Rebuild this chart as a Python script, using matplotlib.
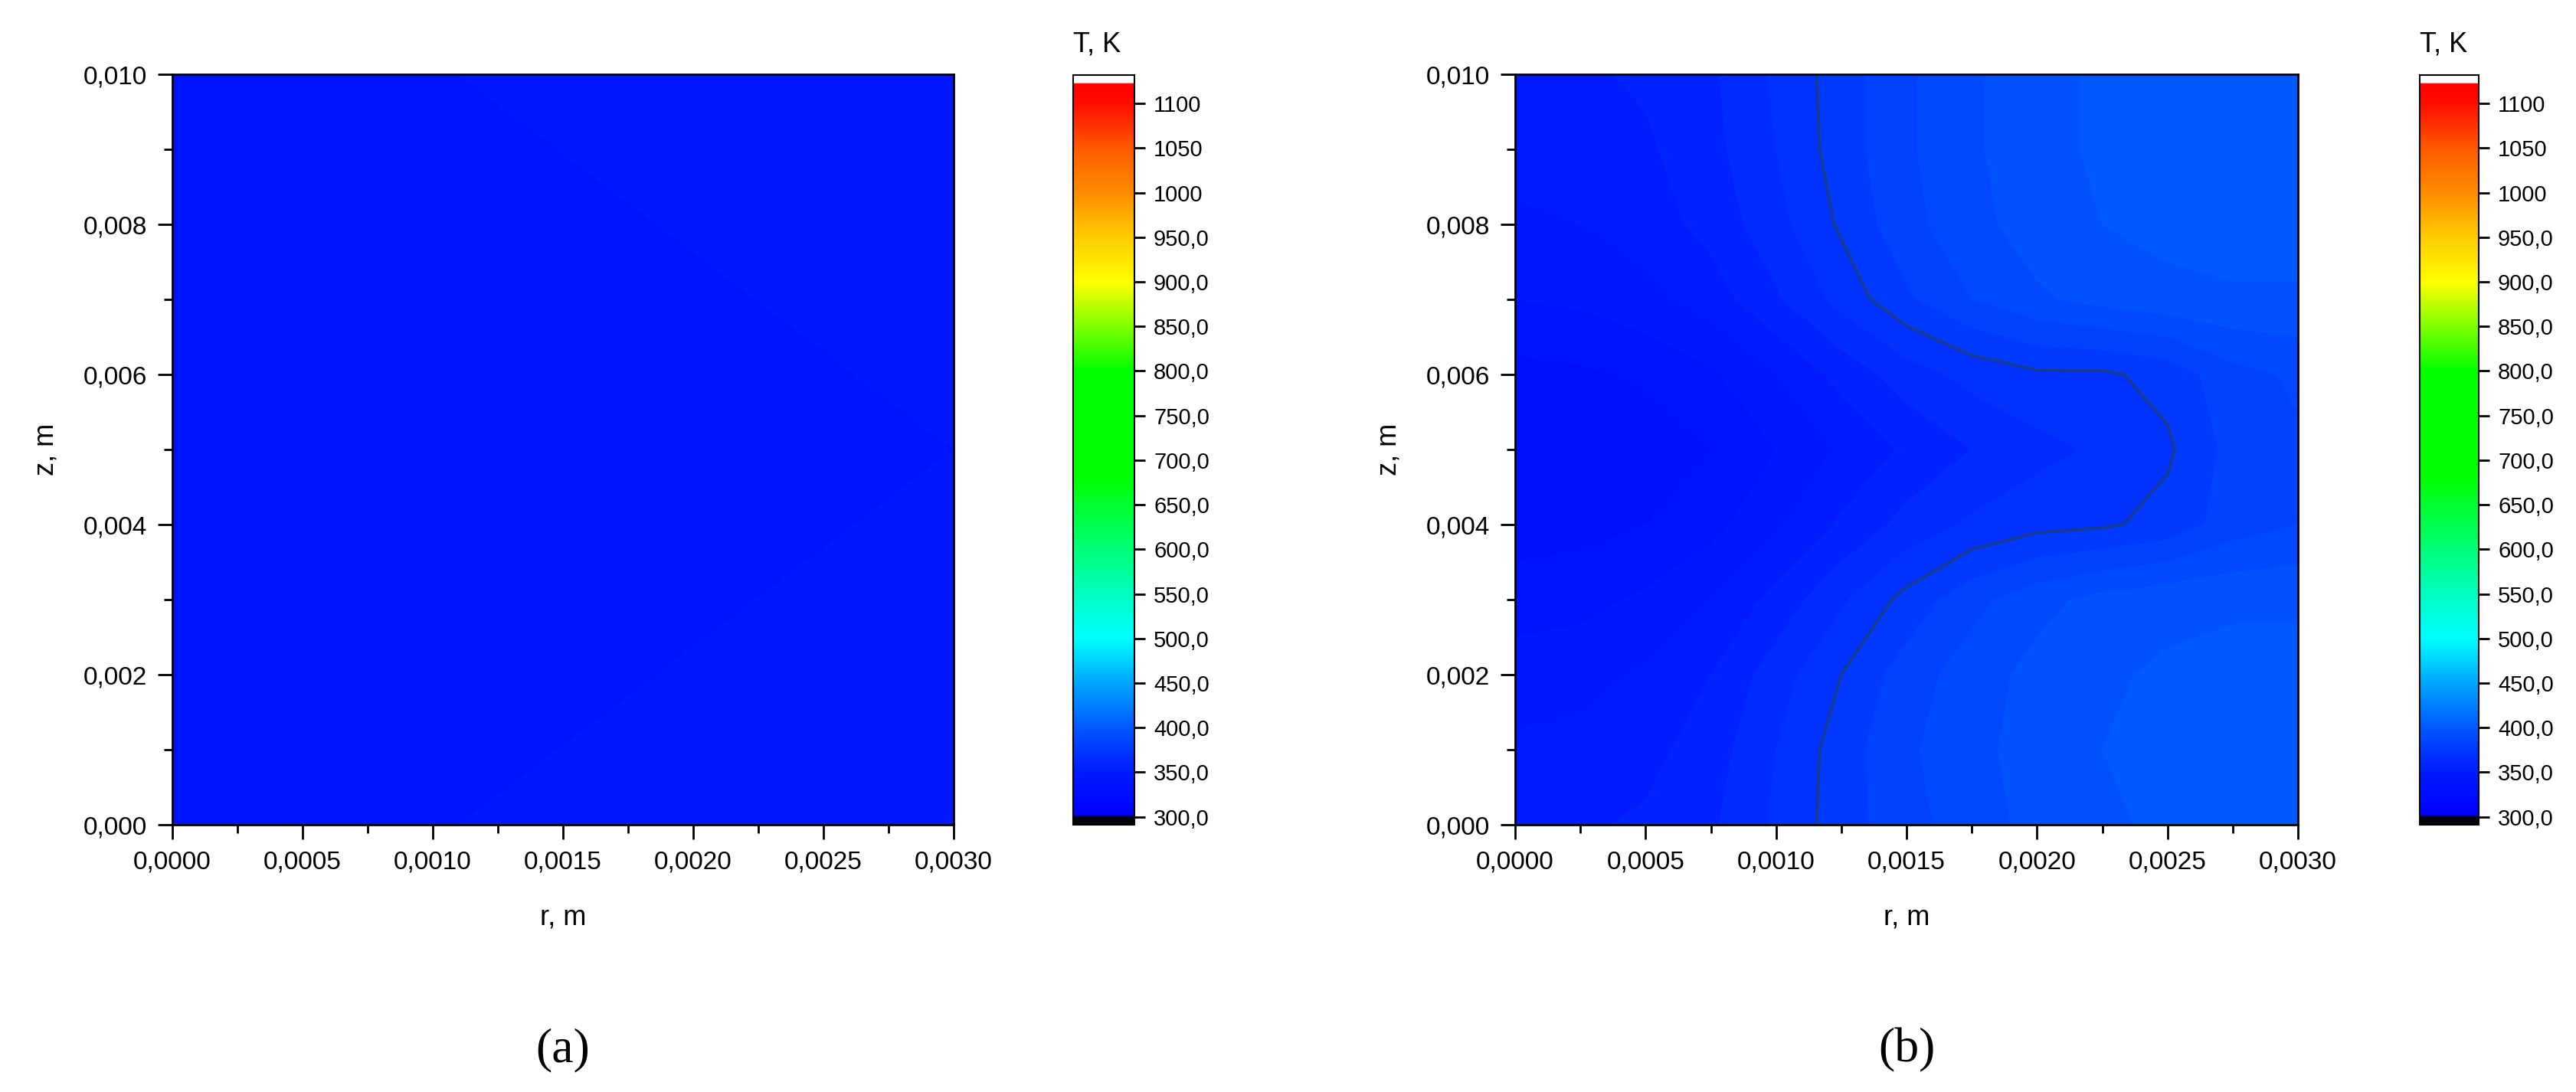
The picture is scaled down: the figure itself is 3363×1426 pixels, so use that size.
import numpy as np
import matplotlib

matplotlib.use("Agg")
import matplotlib.pyplot as plt  # noqa: E402
import matplotlib.ticker as ticker  # noqa: E402
from matplotlib.colors import LinearSegmentedColormap, BoundaryNorm  # noqa: E402

plt.rcParams["font.family"] = ["Liberation Sans", "DejaVu Sans"]

# grid of the temperature fields
r_vals = [0, 0.00025, 0.0005, 0.00075, 0.001, 0.00125, 0.0015,
          0.00175, 0.002, 0.00225, 0.0025, 0.00275, 0.003]
z_vals = [0, 0.001, 0.002, 0.003, 0.004, 0.005, 0.006, 0.007, 0.008, 0.009, 0.010]

temp_b = [
    [355, 356, 358, 362, 370, 378, 385, 390, 395, 398, 400, 401, 402],
    [352, 353, 355, 360, 369, 378, 386, 391, 396, 399, 401, 402, 402],
    [348, 349, 352, 357, 366, 375, 384, 390, 395, 398, 400, 401, 401],
    [342, 343, 346, 351, 359, 368, 377, 385, 391, 395, 397, 398, 398],
    [336, 337, 339, 343, 350, 358, 365, 370, 373, 374, 377, 384, 387],
    [333, 334, 336, 339, 345, 352, 358, 363, 367, 370, 374, 383, 386],
    [337, 338, 340, 344, 351, 359, 366, 371, 374, 374, 377, 385, 388],
    [345, 346, 349, 354, 362, 371, 380, 387, 392, 395, 397, 398, 398],
    [350, 351, 354, 359, 367, 376, 385, 391, 396, 399, 401, 402, 402],
    [353, 354, 356, 361, 369, 378, 386, 392, 397, 400, 402, 403, 403],
    [355, 356, 358, 362, 370, 378, 386, 392, 397, 400, 402, 403, 403],
]

# panel (a): almost uniform field
r_a = [0, 0.0011, 0.003]
z_a = [0, 0.005, 0.010]
temp_a = [
    [343, 345, 346],
    [342, 344, 345],
    [343, 345, 346],
]

contour_level = 375
cbar_ticks = list(range(300, 1101, 50))

# Origin-like rainbow colormap
t_min, t_max = 291, 1132
cmap_pts = [
    (291, (0.0, 0.0, 0.0)), (299, (0.0, 0.0, 0.1)), (302, (0.0, 0.0, 1.0)),
    (350, (0.0, 0.1, 1.0)), (400, (0.0, 0.35, 1.0)), (450, (0.0, 0.65, 1.0)),
    (500, (0.0, 1.0, 1.0)), (550, (0.0, 1.0, 0.75)), (620, (0.0, 1.0, 0.35)),
    (680, (0.0, 1.0, 0.0)), (800, (0.0, 1.0, 0.0)), (860, (0.6, 1.0, 0.0)),
    (900, (1.0, 1.0, 0.0)), (950, (1.0, 0.8, 0.0)), (1000, (1.0, 0.55, 0.0)),
    (1050, (1.0, 0.35, 0.0)), (1100, (1.0, 0.05, 0.0)), (1123, (1.0, 0.0, 0.0)),
    (1124, (1.0, 1.0, 1.0)), (1132, (1.0, 1.0, 1.0)),
]
cmap = LinearSegmentedColormap.from_list(
    "origin", [((v - t_min) / (t_max - t_min), c) for v, c in cmap_pts], N=1024)
levels = np.arange(291, 1133, 6)
norm = BoundaryNorm(levels, cmap.N)

W, H = 3363, 1426
fig = plt.figure(figsize=(W / 100, H / 100), dpi=100)


def box(x0, x1, y0, y1):
    return [x0 / W, 1 - y1 / H, (x1 - x0) / W, (y1 - y0) / H]


def cb_fmt(v, pos):
    return f"{v:.0f}" if v >= 1000 else f"{v:.1f}".replace(".", ",")


def draw_panel(ax, cax, rs, zs, temps, letter, with_line):
    cs = ax.contourf(rs, zs, np.array(temps), levels=levels, cmap=cmap, norm=norm)
    if with_line:
        ax.contour(rs, zs, np.array(temps), levels=[contour_level],
                   colors="#1a3a8a", linewidths=2.5)
    ax.set_xlim(0, 0.003)
    ax.set_ylim(0, 0.010)
    ax.xaxis.set_major_locator(ticker.MultipleLocator(0.0005))
    ax.xaxis.set_minor_locator(ticker.MultipleLocator(0.00025))
    ax.yaxis.set_major_locator(ticker.MultipleLocator(0.002))
    ax.yaxis.set_minor_locator(ticker.MultipleLocator(0.001))
    ax.xaxis.set_major_formatter(ticker.FuncFormatter(lambda v, p: f"{v:.4f}".replace(".", ",")))
    ax.yaxis.set_major_formatter(ticker.FuncFormatter(lambda v, p: f"{v:.3f}".replace(".", ",")))
    ax.tick_params(which="major", direction="out", length=14, width=2, labelsize=24, pad=10)
    ax.tick_params(which="minor", direction="out", length=8, width=2)
    for s in ax.spines.values():
        s.set_linewidth(2)
    ax.set_xlabel("r, m", fontsize=26, labelpad=28)
    ax.set_ylabel("z, m", fontsize=26, labelpad=22)
    ax.text(0.5, -0.30, f"({letter})", transform=ax.transAxes, ha="center", va="center",
            fontsize=46, family=["Liberation Serif"])

    sm = matplotlib.cm.ScalarMappable(norm=matplotlib.colors.Normalize(t_min, t_max), cmap=cmap)
    cb = fig.colorbar(sm, cax=cax, ticks=cbar_ticks)
    cb.ax.yaxis.set_major_formatter(ticker.FuncFormatter(cb_fmt))
    cb.ax.tick_params(labelsize=21, length=10, width=2, pad=8)
    cb.outline.set_linewidth(1.5)
    cax.set_title("T, K", fontsize=26, pad=22, loc="left")
    return cs


ax_a = fig.add_axes(box(225, 1245, 97, 1077))
cax_a = fig.add_axes(box(1401, 1481, 98, 1077))
draw_panel(ax_a, cax_a, r_a, z_a, temp_a, "a", False)

ax_b = fig.add_axes(box(1978, 3000, 97, 1077))
cax_b = fig.add_axes(box(3159, 3236, 98, 1077))
draw_panel(ax_b, cax_b, r_vals, z_vals, temp_b, "b", True)

fig.savefig("out.png", dpi=100)
